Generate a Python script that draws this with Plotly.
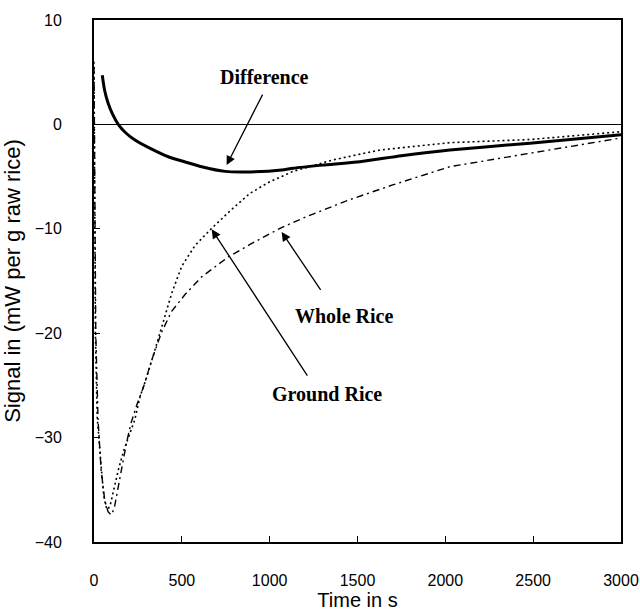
import plotly.graph_objects as go

# Heat-flow signal (mW per g raw rice) against time (s)
t_ground = [0, 3, 8, 18, 30, 41, 55, 68, 80, 95, 115, 140, 170, 200, 232, 262, 300,
            347, 404, 442, 499, 575, 670, 780, 888, 1000, 1133, 1360, 1628, 2026, 2482, 3000]
v_ground = [6, -6, -20, -28, -31, -32.8, -35.5, -36.6, -36.9, -36.3, -34.8, -33, -31.2,
            -29.7, -28.3, -26.1, -24.2, -21.6, -18.4, -16.2, -13.6, -11.6, -9.95, -8.2,
            -6.6, -5.5, -4.5, -3.4, -2.45, -1.75, -1.45, -0.7]

t_whole = [0, 4, 10, 23, 40, 61, 80, 98, 115, 135, 160, 185, 211, 245, 281, 328, 385,
           442, 518, 613, 764, 888, 1059, 1200, 1457, 1700, 2026, 2482, 3000]
v_whole = [5.5, -5, -20, -28.3, -33, -36, -37.1, -37.4, -36.8, -35, -32.8, -30.5, -28.6,
           -26.8, -25.2, -22.6, -19.9, -17.9, -16.3, -14.6, -12.7, -11.5, -9.95, -8.9,
           -7.2, -5.8, -4.05, -2.77, -1.3]

t_diff = [47, 60, 81, 105, 138, 180, 233, 320, 423, 520, 613, 746, 888, 1068, 1133,
          1300, 1514, 1750, 2026, 2482, 3000]
v_diff = [4.7, 3.3, 2.0, 1.0, 0.0, -0.8, -1.5, -2.3, -3.1, -3.6, -4.05, -4.5, -4.55,
          -4.37, -4.2, -3.9, -3.57, -3.0, -2.45, -1.8, -1.0]

x_ticks = [0, 500, 1000, 1500, 2000, 2500, 3000]
y_ticks = [-40, -30, -20, -10, 0, 10]

fig = go.Figure()
fig.add_trace(go.Scatter(x=t_ground, y=v_ground, mode="lines", name="Ground Rice",
                         line=dict(color="black", width=1.6, dash="2px,3px")))
fig.add_trace(go.Scatter(x=t_whole, y=v_whole, mode="lines", name="Whole Rice",
                         line=dict(color="black", width=1.4, dash="7px,4px,2px,4px")))
fig.add_trace(go.Scatter(x=t_diff, y=v_diff, mode="lines", name="Difference",
                         line=dict(color="black", width=3, shape="spline", smoothing=0.6)))

label_font = dict(family="Liberation Serif", size=20, color="black")

# Labels with arrows pointing at their curves
labels = [
    ("<b>Difference</b>", 973, 4.5, 755, -3.9, 964, 3.0),
    ("<b>Whole Rice</b>", 1423, -18.35, 1068, -10.3, 1296, -16.0),
    ("<b>Ground Rice</b>", 1326, -25.8, 670, -10.05, 1220, -24.2),
]
for text, tx, ty, hx, hy, ax, ay in labels:
    fig.add_annotation(x=tx, y=ty, text=text, showarrow=False, font=label_font)
    fig.add_annotation(x=hx, y=hy, ax=ax, ay=ay, xref="x", yref="y", axref="x", ayref="y",
                       text="", showarrow=True, arrowhead=2, arrowsize=1.4,
                       arrowwidth=1.3, arrowcolor="black")

tick_font = dict(family="Liberation Sans", size=16, color="black")
fig.update_xaxes(range=[0, 3000], tickvals=x_ticks, ticks="inside", ticklen=6,
                 tickwidth=1, tickcolor="black", showline=True, linecolor="black",
                 linewidth=2, mirror=True, showgrid=False, zeroline=False,
                 automargin=False, tickfont=tick_font, ticklabelstandoff=23,
                 title=dict(text="Time in s", font=dict(family="Liberation Sans", size=20,
                                                         color="black"), standoff=5))
fig.update_yaxes(range=[-40, 10], tickvals=y_ticks, ticks="inside", ticklen=6,
                 tickwidth=1, tickcolor="black", showline=True, linecolor="black",
                 linewidth=2, mirror=True, showgrid=False, zeroline=True,
                 zerolinecolor="black", zerolinewidth=1, automargin=False,
                 tickfont=tick_font, ticklabelstandoff=27,
                 title=dict(text="Signal in (mW per g raw rice)",
                            font=dict(family="Liberation Sans", size=22, color="black"),
                            standoff=9))

fig.update_layout(width=640, height=613, showlegend=False,
                  plot_bgcolor="white", paper_bgcolor="white",
                  margin=dict(l=94, r=19, t=20, b=71))

fig.write_html("out.html")
